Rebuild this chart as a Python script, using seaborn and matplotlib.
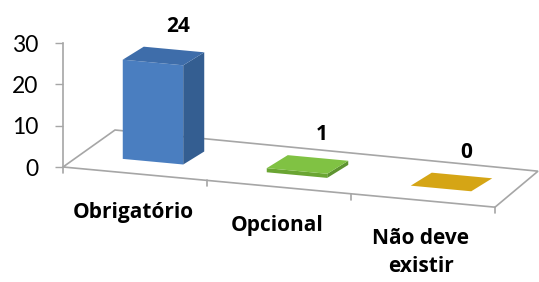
import numpy as np
import matplotlib
matplotlib.use("Agg")
import matplotlib.pyplot as plt
import matplotlib.transforms as mtransforms
from matplotlib.patches import Polygon
import seaborn as sns

categorias = ["Obrigatório", "Opcional", "Não deve\nexistir"]
respostas = [24, 1, 0]
rotulos = ["24", "1", "0"]
yticks = [0, 10, 20, 30]

cores_frente = ["#4A7EC0", "#6AA533", "#C99A10"]
cores_topo = ["#3E6DAA", "#80C243", "#D5A515"]
cores_lado = ["#345E91", "#5E9430", "#B08510"]

sns.set_style("white")
plt.rcParams["font.family"] = ["Lato", "DejaVu Sans"]
negrito = dict(family=["Open Sans", "DejaVu Sans"], fontweight="bold", color="black")

fig = plt.figure(figsize=(5.39, 2.82), dpi=100)
ax = fig.add_axes([63 / 539, (282 - 167) / 282, (495 - 63) / 539, (167 - 43) / 282])

sns.barplot(x=categorias, y=respostas, hue=categorias, palette=cores_frente,
            width=0.42, saturation=1, legend=False, ax=ax)
barras = list(ax.patches)
ax.set_xlim(-0.5, len(categorias) - 0.5)
ax.set_ylim(0, 30)

# pseudo 3D: cisalhamento do plano + profundidade em pixels
inclin = np.array([[1, 0, 0], [-0.324, 1, 0], [0, 0, 1]])
trans_skew = ax.transScale + ax.transLimits + mtransforms.Affine2D(inclin) + ax.transAxes
trans_bar = trans_skew + mtransforms.ScaledTranslation(0.18, 0.12, fig.dpi_scale_trans)
prof = np.array([21, 13])
ident = mtransforms.IdentityTransform()

# chão
cinza = "#A6A6A6"
fe, fd = trans_skew.transform([(-0.5, 0), (len(categorias) - 0.5, 0)])
chao = [fe, fd, fd + np.array([43, 36]), fe + np.array([52, 37])]
ax.add_patch(Polygon(chao, closed=True, fill=False, edgecolor=cinza, lw=1.2,
                     transform=ident, clip_on=False, zorder=0.5))
for xt in np.arange(-0.5, len(categorias), 1.0):
    p = trans_skew.transform((xt, 0))
    ax.plot([p[0], p[0]], [p[1], p[1] - 6], color=cinza, lw=1.2,
            transform=ident, clip_on=False, zorder=0.5)

for p, ct, cl, rot in zip(barras, cores_topo, cores_lado, rotulos):
    p.set_transform(trans_bar)
    p.set_linewidth(0)
    p.set_clip_on(False)
    p.set_zorder(2)
    x0, w, h = p.get_x(), p.get_width(), p.get_height()
    fr = trans_bar.transform([(x0, h), (x0 + w, h), (x0 + w, 0)])
    topo = [fr[0], fr[1], fr[1] + prof, fr[0] + prof]
    lado = [fr[1], fr[2], fr[2] + prof, fr[1] + prof]
    ax.add_patch(Polygon(lado, closed=True, facecolor=cl, lw=0,
                         transform=ident, clip_on=False, zorder=2))
    ax.add_patch(Polygon(topo, closed=True, facecolor=ct, lw=0,
                         transform=ident, clip_on=False, zorder=2))
    c = trans_bar.transform((x0 + w / 2, h)) + prof
    ax.annotate(rot, xy=c, xycoords=ident, xytext=(4, 23), textcoords="offset pixels",
                ha="center", va="center", fontsize=15, **negrito)

for i, cat in enumerate(categorias):
    ax.annotate(cat, xy=(i, 0), xycoords=trans_skew, xytext=(-2, -28),
                textcoords="offset pixels", ha="center", va="top",
                fontsize=15, linespacing=1.42, **negrito)

ax.set_xticks([])
ax.set_yticks(yticks)
ax.tick_params(axis="y", length=5.5, width=1, color=cinza, pad=12,
               labelsize=16.5, labelcolor="black", left=True)
for s in ["top", "right", "bottom"]:
    ax.spines[s].set_visible(False)
ax.spines["left"].set_color(cinza)
ax.spines["left"].set_linewidth(1.2)
ax.set_xlabel("")
ax.set_ylabel("")
ax.patch.set_alpha(0)

fig.savefig("out.png", dpi=100)
